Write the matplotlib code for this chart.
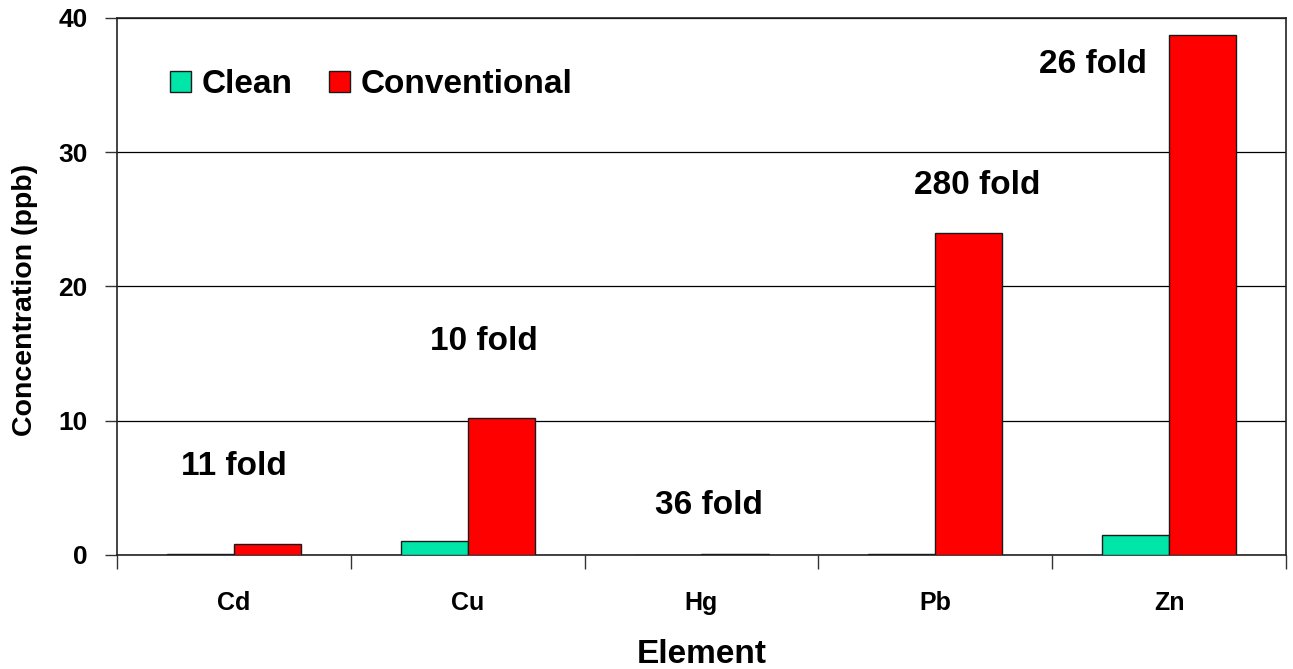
import numpy as np
import matplotlib
matplotlib.use("Agg")
import matplotlib.pyplot as plt

# data
elements = ["Cd", "Cu", "Hg", "Pb", "Zn"]
clean = [0.07, 1.04, 0.002, 0.085, 1.49]
conventional = [0.8, 10.2, 0.07, 24.0, 38.7]
fold_labels = ["11 fold", "10 fold", "36 fold", "280 fold", "26 fold"]
yticks = [0, 10, 20, 30, 40]

plt.rcParams["font.family"] = ["Liberation Sans", "DejaVu Sans"]
plt.rcParams["font.weight"] = "bold"

fig = plt.figure(figsize=(12.93, 6.69), dpi=100)
ax = fig.add_axes([0.0905, 0.1705, 0.9040, 0.8030])

x = np.arange(len(elements))
w = 0.287
ax.bar(x - w / 2, clean, w, color="#00E5A8", edgecolor="#1a1a1a", linewidth=1, label="Clean", zorder=3)
ax.bar(x + w / 2, conventional, w, color="#FF0000", edgecolor="#1a1a1a", linewidth=1, label="Conventional", zorder=3)

# fold annotations (positions placed by eye)
label_pos = [(0.0, 6.6), (1.07, 15.9), (2.03, 3.7), (3.18, 27.5), (3.675, 36.5)]
for txt, (px, py) in zip(fold_labels, label_pos):
    ax.text(px, py, txt, ha="center", va="center", fontsize=24, fontweight="bold")

ax.set_xlim(-0.5, len(elements) - 0.5)
ax.set_ylim(0, 40)
ax.set_yticks(yticks)
ax.yaxis.grid(True, color="black", linewidth=0.9, zorder=0)
ax.set_axisbelow(True)

# category boundary ticks on the x axis
ax.set_xticks(np.arange(-0.5, len(elements), 1.0))
ax.set_xticklabels([])
ax.set_xticks(x, minor=True)
ax.set_xticklabels(elements, minor=True, fontsize=18, fontweight="bold")
ax.tick_params(axis="x", which="major", direction="out", length=10, width=1, color="#333333")
ax.tick_params(axis="x", which="minor", length=0, pad=26)
ax.tick_params(axis="y", direction="out", length=9, width=1, color="#333333", labelsize=19, pad=12)

for s in ax.spines.values():
    s.set_color("#222222")
    s.set_linewidth(1.2)

ax.set_xlabel("Element", fontsize=24, fontweight="bold", labelpad=17)
ax.set_ylabel("Concentration (ppb)", fontsize=20.5, fontweight="bold")
ax.yaxis.set_label_coords(-0.0675, 0.475)

ax.legend(loc="upper left", bbox_to_anchor=(0.02, 0.96), frameon=False, ncol=2,
          handlelength=0.62, handleheight=0.62, handletextpad=0.33,
          columnspacing=1.08, prop={"weight": "bold", "size": 24})

fig.savefig("out.png", dpi=100)
